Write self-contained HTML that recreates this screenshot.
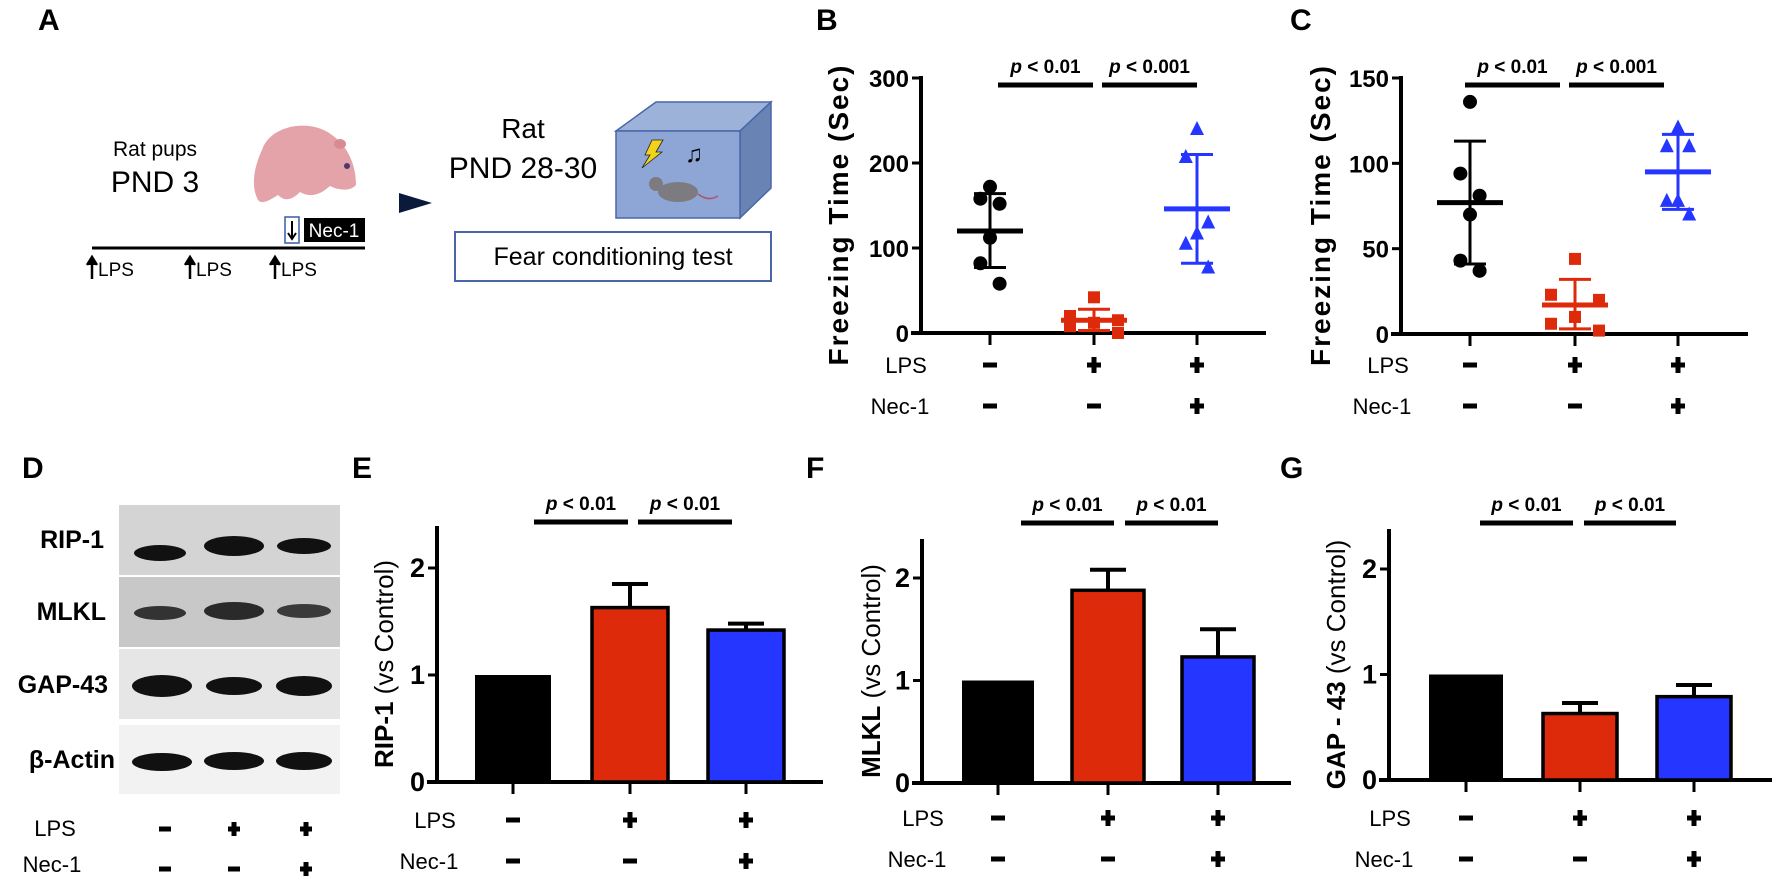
<!DOCTYPE html>
<html><head><meta charset="utf-8"><style>
html,body{margin:0;padding:0;background:#fff}
svg{display:block}
text{font-family:"Liberation Sans",Arial,sans-serif}
</style></head><body>
<svg id="fig" width="1772" height="877" viewBox="0 0 1772 877" xmlns="http://www.w3.org/2000/svg">
<!-- Panel A -->
<g>
<text x="38" y="30" font-size="30" font-weight="bold">A</text>
<text x="155" y="156" font-size="21" text-anchor="middle">Rat pups</text>
<text x="155" y="192" font-size="30" text-anchor="middle">PND 3</text>
<g>
<path d="M262 150 C270 125 310 118 332 135 C350 148 356 168 356 185 C350 192 338 190 330 186 C320 195 310 198 300 192 C292 200 285 202 278 195 C270 200 262 205 258 200 C250 185 255 165 262 150Z" fill="#e3a3a8"/>
<ellipse cx="340" cy="144" rx="6" ry="5" fill="#d98a93"/>
<circle cx="347" cy="166" r="3" fill="#4b3a70"/>
</g>
<rect x="285" y="217" width="14" height="26" fill="#fff" stroke="#3a5aa8" stroke-width="1.5"/>
<path d="M292 221 v16 M288 233 l4 6 l4 -6" stroke="#000" stroke-width="2" fill="none"/>
<rect x="304" y="218" width="61" height="24" fill="#000"/>
<text x="334" y="237" font-size="19" fill="#fff" text-anchor="middle">Nec-1</text>
<line x1="92" y1="248" x2="365" y2="248" stroke="#000" stroke-width="3"/>
<g font-size="19">
<path d="M92 279 V259 M87 265 l5 -8 l5 8" stroke="#000" stroke-width="2.5" fill="#000"/><text x="98" y="276">LPS</text>
<path d="M190 279 V259 M185 265 l5 -8 l5 8" stroke="#000" stroke-width="2.5" fill="#000"/><text x="196" y="276">LPS</text>
<path d="M275 279 V259 M270 265 l5 -8 l5 8" stroke="#000" stroke-width="2.5" fill="#000"/><text x="281" y="276">LPS</text>
</g>
<polygon points="399,193 432,203 399,213" fill="#0b1a3a"/>
<text x="523" y="138" font-size="28" text-anchor="middle">Rat</text>
<text x="523" y="178" font-size="30" text-anchor="middle">PND 28-30</text>
<g>
<polygon points="616,131 656,102 771,102 740,131" fill="#9db2d9" stroke="#4a66a8" stroke-width="1.5"/>
<polygon points="740,131 771,102 771,188 740,218" fill="#6a83b5" stroke="#4a66a8" stroke-width="1.5"/>
<rect x="616" y="131" width="124" height="87" fill="#8da6d6" stroke="#4a66a8" stroke-width="1.5"/>
<polygon points="652,140 663,140 656,152 662,152 642,168 650,155 645,155" fill="#f2d21b" stroke="#222" stroke-width="0.8"/>
<text x="685" y="162" font-size="24" font-weight="bold">♫</text>
<ellipse cx="678" cy="192" rx="20" ry="10" fill="#7d7b80"/>
<circle cx="656" cy="184" r="7" fill="#7d7b80"/>
<path d="M698 194 q10 8 20 2" stroke="#b0526e" stroke-width="1.5" fill="none"/>
</g>
<rect x="455" y="232" width="316" height="49" fill="#fff" stroke="#4a66a8" stroke-width="2"/>
<text x="613" y="265" font-size="25" text-anchor="middle">Fear conditioning test</text>
</g>
<!-- Panel D -->
<g>
<text x="22" y="478" font-size="30" font-weight="bold">D</text>
<g font-size="25" font-weight="bold" text-anchor="end">
<text x="104" y="548">RIP-1</text>
<text x="106" y="620">MLKL</text>
<text x="108" y="693">GAP-43</text>
<text x="115" y="768">β-Actin</text>
</g>
<rect x="119" y="505" width="221" height="70" fill="#d4d4d4"/>
<rect x="119" y="577" width="221" height="70" fill="#c8c8c8"/>
<rect x="119" y="649" width="221" height="70" fill="#e6e6e6"/>
<rect x="119" y="725" width="221" height="69" fill="#f2f2f2"/>
<g fill="#111">
<ellipse cx="160" cy="553" rx="26" ry="8"/><ellipse cx="234" cy="546" rx="30" ry="10"/><ellipse cx="304" cy="546" rx="27" ry="8"/>
<ellipse cx="160" cy="613" rx="26" ry="7" fill="#333"/><ellipse cx="234" cy="611" rx="30" ry="9" fill="#2a2a2a"/><ellipse cx="304" cy="611" rx="27" ry="7" fill="#3a3a3a"/>
<ellipse cx="162" cy="686" rx="30" ry="11"/><ellipse cx="234" cy="686" rx="28" ry="9"/><ellipse cx="304" cy="686" rx="28" ry="10"/>
<ellipse cx="162" cy="762" rx="30" ry="9"/><ellipse cx="234" cy="761" rx="30" ry="9"/><ellipse cx="304" cy="761" rx="28" ry="9"/>
</g>
</g>
<g id="charts"></g>
</svg>
<script>
// ---- Data: panel B ----
const bCategories = ["Control", "LPS", "LPS+Nec-1"];
const bControl = [172, 158, 152, 112, 82, 58];
const bLps = [42, 20, 15, 12, 8, 0];
const bNec = [240, 207, 130, 117, 105, 77];
const bMeans = [120, 15, 146];
const bSdLow = [77, 3, 82];
const bSdHigh = [164, 28, 210];
const bTicks = [0, 100, 200, 300];
// ---- Data: panel C ----
const cControl = [136, 94, 81, 70, 43, 37];
const cLps = [44, 23, 20, 10, 6, 2];
const cNec = [121, 110, 110, 78, 78, 70];
const cMeans = [77, 17, 95];
const cSdLow = [41, 3, 73];
const cSdHigh = [113, 32, 117];
const cTicks = [0, 50, 100, 150];
// ---- Data: bar panels ----
const eValues = [1.0, 1.63, 1.42];
const eErrors = [0, 0.22, 0.06];
const fValues = [1.0, 1.88, 1.23];
const fErrors = [0, 0.2, 0.27];
const gValues = [1.0, 0.63, 0.79];
const gErrors = [0, 0.1, 0.11];
const barTicks = [0, 1, 2];
const lpsSigns = ["-", "+", "+"];
const necSigns = ["-", "-", "+"];
const colors = ["#000000", "#dc2a0a", "#2436ff"];

const NS = "http://www.w3.org/2000/svg";
const root = document.getElementById("charts");
function mk(tag, attrs, parent) {
  const e = document.createElementNS(NS, tag);
  for (const k in attrs) e.setAttribute(k, attrs[k]);
  (parent || root).appendChild(e);
  return e;
}
function txt(s, attrs, parent) { const t = mk("text", attrs, parent); t.textContent = s; return t; }

function axes(p, g) {
  const y = v => p.y0 - (v / p.max) * (p.y0 - p.yMax);
  const x = i => p.xs[i];
  mk("line", {x1: p.ax, y1: p.yTop, x2: p.ax, y2: p.y0 + 1.5, stroke: "#000", "stroke-width": 4}, g);
  mk("line", {x1: p.ax - 10, y1: p.y0, x2: p.xEnd, y2: p.y0, stroke: "#000", "stroke-width": 4}, g);
  p.ticks.forEach(t => {
    mk("line", {x1: p.ax - 9, y1: y(t), x2: p.ax, y2: y(t), stroke: "#000", "stroke-width": 3}, g);
    const tl = txt(String(t), {x: p.ax - 12, y: y(t) + 9, "font-size": p.tfs, "font-weight": "bold", "text-anchor": "end"}, g);
    
    
  });
  p.xs.forEach((xx, i) => {
    mk("line", {x1: xx, y1: p.y0, x2: xx, y2: p.y0 + 12, stroke: "#000", "stroke-width": 3}, g);
  });
  const tt = txt(p.title, {transform: `translate(${p.tx},${(p.y0 + p.yTop) / 2 + 10}) rotate(-90)`, "font-size": p.titleSize || 26, "letter-spacing": p.ls || 0, "text-anchor": "middle", "font-weight": p.titleBold ? "bold" : "normal"}, g);
  
  
  if (p.titleSpans) { tt.textContent = ""; p.titleSpans.forEach(s => { const ts = mk("tspan", {"font-weight": s[1] ? "bold" : "normal"}, tt); ts.textContent = s[0]; }); }
  const pl = txt(p.label, {x: p.lx, y: p.ly, "font-size": 30, "font-weight": "bold"}, g);
  
  
  const l1 = txt("LPS", {x: p.rowX, y: p.rowY, "font-size": 22, "text-anchor": "middle"}, g);
  
  
  const l2 = txt("Nec-1", {x: p.rowX - 6, y: p.rowY + 41, "font-size": 22, "text-anchor": "middle"}, g);
  
  
  p.xs.forEach((xx, i) => {
    [lpsSigns[i], necSigns[i]].forEach((s, r) => {
      const cy = p.rowY - 8 + r * 41;
      const gg = mk("g", {}, g);
      
      
      mk("rect", {x: xx - 7, y: cy - 2.5, width: 14, height: 5, fill: "#000"}, gg);
      if (s === "+") mk("rect", {x: xx - 2.5, y: cy - 8, width: 5, height: 16, fill: "#000"}, gg);
    });
  });
  p.sig.forEach(s => {
    const sb = mk("line", {x1: s[0], y1: p.sigY, x2: s[1], y2: p.sigY, stroke: "#000", "stroke-width": 5}, g);
    
    
    const st = mk("text", {x: (s[0] + s[1]) / 2, y: p.sigY - 12, "font-size": 19, "font-weight": "bold", "text-anchor": "middle"}, g);
    
    
    const a = mk("tspan", {"font-style": "italic"}, st); a.textContent = "p";
    const b = mk("tspan", {}, st); b.textContent = " < " + s[2];
  });
  return {x, y};
}

function scatter(p, groups, means, lo, hi) {
  const g = mk("g", {});
  
  
  const {x, y} = axes(p, g);
  groups.forEach((vals, i) => {
    const c = colors[i];
    const cx = x(i);
    vals.forEach((v, k) => {
      const dx = [0, -16, 16, 0, -16, 16][k];
      let m;
      if (i === 0) m = mk("circle", {cx: cx + dx * 0.6, cy: y(v), r: 7, fill: c}, g);
      else if (i === 1) m = mk("rect", {x: cx + dx * 1.5 - 6, y: y(v) - 6, width: 12, height: 12, fill: c}, g);
      else m = mk("polygon", {points: `${cx + dx * 0.7},${y(v) - 8} ${cx + dx * 0.7 - 7},${y(v) + 6} ${cx + dx * 0.7 + 7},${y(v) + 6}`, fill: c}, g);
      
      
    });
    const ml = mk("line", {x1: cx - 33, y1: y(means[i]), x2: cx + 33, y2: y(means[i]), stroke: c, "stroke-width": 5}, g);
    
    
    const eb = mk("path", {d: `M${cx} ${y(lo[i])} V${y(hi[i])} M${cx - 16} ${y(lo[i])} H${cx + 16} M${cx - 16} ${y(hi[i])} H${cx + 16}`, stroke: c, "stroke-width": 3, fill: "none"}, g);
    
    
  });
}

function bars(p, vals, errs) {
  const g = mk("g", {});
  
  
  const {x, y} = axes(p, g);
  vals.forEach((v, i) => {
    const cx = x(i), w = p.bw;
    if (errs[i] > 0) {
      const e = mk("path", {d: `M${cx} ${y(v)} V${y(v + errs[i])} M${cx - 18} ${y(v + errs[i])} H${cx + 18}`, stroke: "#000", "stroke-width": 4, fill: "none"}, g);
      
      
    }
    const r = mk("rect", {x: cx - w / 2, y: y(v), width: w, height: p.y0 - y(v), fill: colors[i], stroke: "#000", "stroke-width": i === 0 ? 0 : 3.5}, g);
    
    
  });
}

scatter({name: "panel-b-freezing-chart", ax: 921, y0: 333, yMax: 78, yTop: 76, max: 300, xEnd: 1266, xs: [990, 1094, 1197], ticks: bTicks, tfs: 24,
  title: "Freezing Time (Sec)", titleBold: true, titleSize: 28, ls: 2, tx: 848, label: "B", lx: 816, ly: 30, rowX: 906, rowY: 373,
  sig: [[998, 1093, "0.01"], [1102, 1197, "0.001"]], sigY: 85}, [bControl, bLps, bNec], bMeans, bSdLow, bSdHigh);
scatter({name: "panel-c-freezing-chart", ax: 1401, y0: 334, yMax: 78, yTop: 76, max: 150, xEnd: 1748, xs: [1470, 1575, 1678], ticks: cTicks, tfs: 24,
  title: "Freezing Time (Sec)", titleBold: true, titleSize: 28, ls: 2, tx: 1330, label: "C", lx: 1290, ly: 30, rowX: 1388, rowY: 373,
  sig: [[1465, 1560, "0.01"], [1569, 1664, "0.001"]], sigY: 85}, [cControl, cLps, cNec], cMeans, cSdLow, cSdHigh);
bars({name: "panel-e-rip1-chart", ax: 437, y0: 782, yMax: 568, yTop: 526, max: 2, xEnd: 823, xs: [513, 630, 746], ticks: barTicks, tfs: 27, bw: 76,
  title: "", titleSpans: [["RIP-1", true], [" (vs Control)", false]], tx: 393, label: "E", lx: 352, ly: 478, rowX: 435, rowY: 828,
  sig: [[534, 628, "0.01"], [638, 732, "0.01"]], sigY: 522}, eValues, eErrors);
bars({name: "panel-f-mlkl-chart", ax: 922, y0: 783, yMax: 578, yTop: 539, max: 2, xEnd: 1291, xs: [998, 1108, 1218], ticks: barTicks, tfs: 27, bw: 72,
  title: "", titleSpans: [["MLKL", true], [" (vs Control)", false]], tx: 880, label: "F", lx: 806, ly: 478, rowX: 923, rowY: 826,
  sig: [[1021, 1114, "0.01"], [1125, 1218, "0.01"]], sigY: 523}, fValues, fErrors);
bars({name: "panel-g-gap43-chart", ax: 1389, y0: 780, yMax: 569, yTop: 529, max: 2, xEnd: 1772, xs: [1466, 1580, 1694], ticks: barTicks, tfs: 27, bw: 74,
  title: "", titleSpans: [["GAP - 43", true], [" (vs Control)", false]], tx: 1345, label: "G", lx: 1280, ly: 478, rowX: 1390, rowY: 826,
  sig: [[1480, 1573, "0.01"], [1584, 1676, "0.01"]], sigY: 523}, gValues, gErrors);
const dg = mk("g", {});


txt("LPS", {x: 55, y: 836, "font-size": 22, "text-anchor": "middle"}, dg);
txt("Nec-1", {x: 52, y: 872, "font-size": 22, "text-anchor": "middle"}, dg);
[165, 234, 306].forEach((xx, i) => {
  [lpsSigns[i], necSigns[i]].forEach((s, r) => {
    const cy = 829 + r * 40;
    mk("rect", {x: xx - 6, y: cy - 2.5, width: 12, height: 5, fill: "#000"}, dg);
    if (s === "+") mk("rect", {x: xx - 2.5, y: cy - 7, width: 5, height: 14, fill: "#000"}, dg);
  });
});
</script>
</body></html>
